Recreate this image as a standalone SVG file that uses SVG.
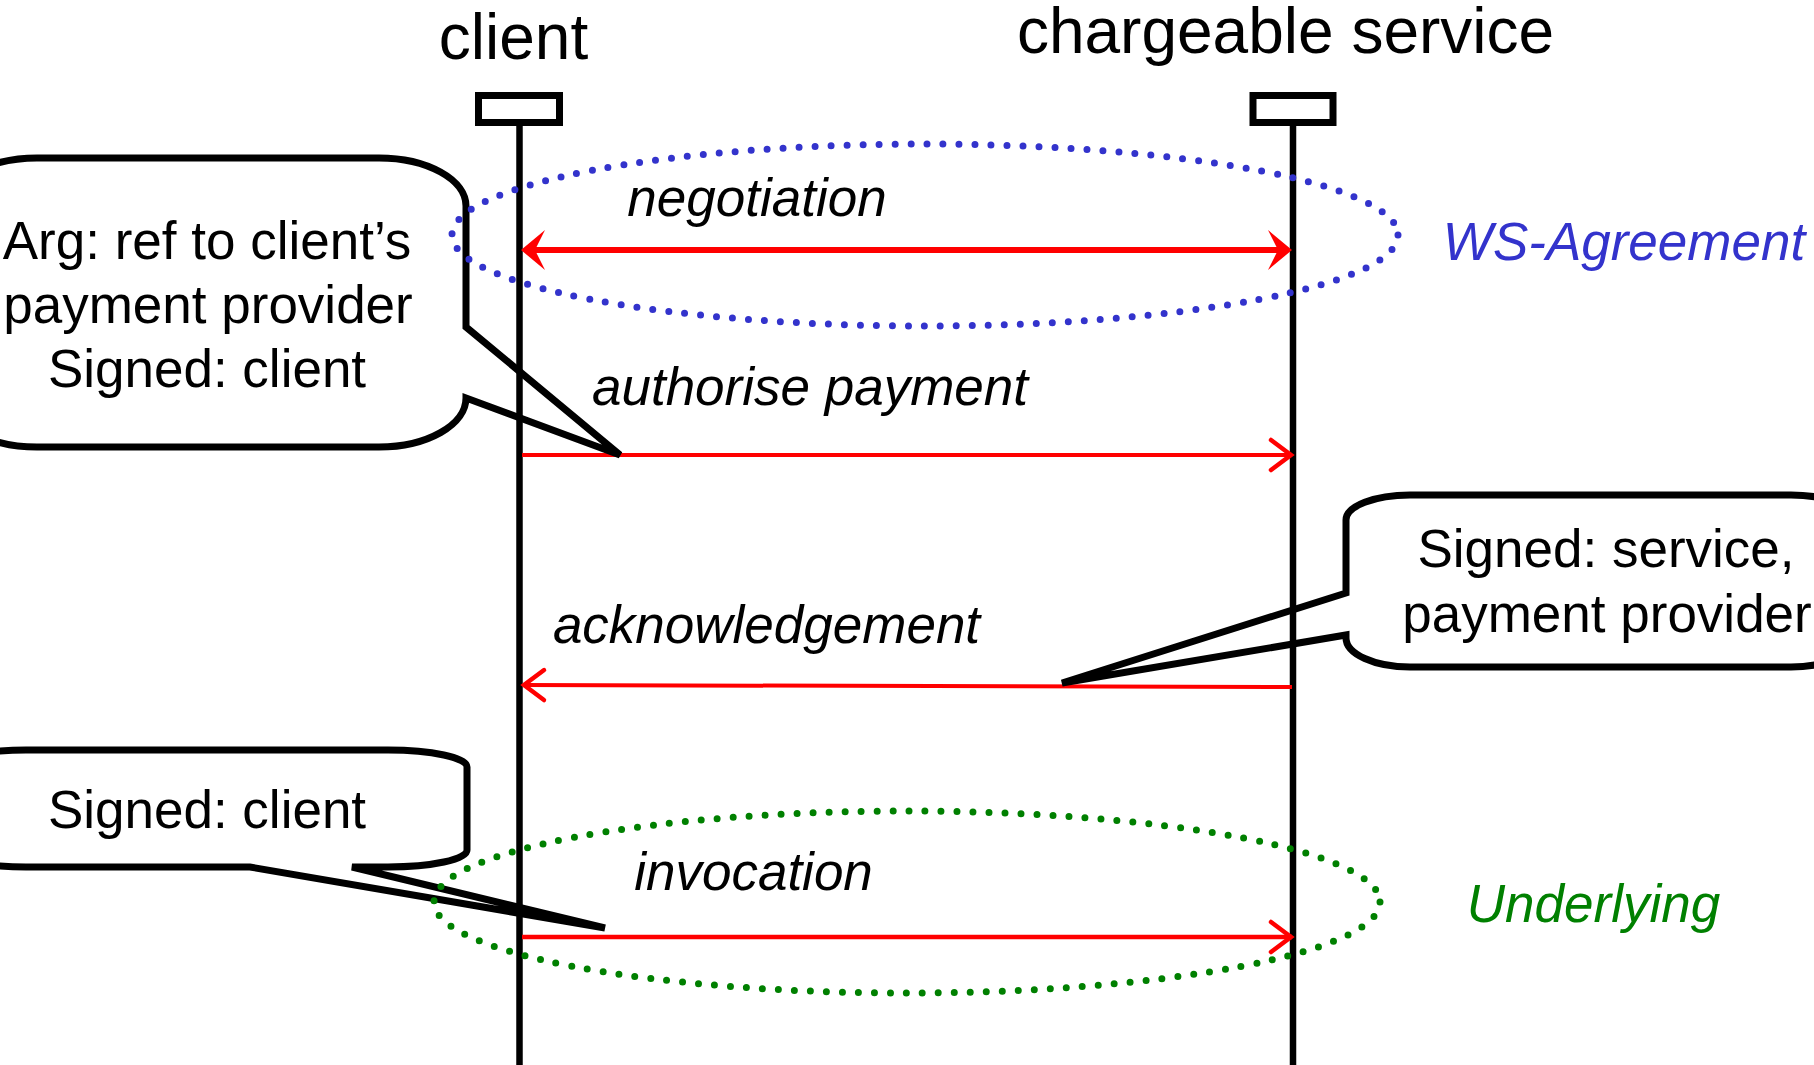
<svg xmlns="http://www.w3.org/2000/svg" width="1814" height="1065" viewBox="0 0 1814 1065">
  <style>
    text { font-family: "Liberation Sans", Arial, sans-serif; }
    .title { font-size: 64px; fill: #000; text-anchor: middle; }
    .msg { font-size: 53px; font-style: italic; fill: #000; text-anchor: middle; }
    .note { font-size: 53px; fill: #000; text-anchor: middle; }
    .proto { font-size: 53px; font-style: italic; text-anchor: middle; }
    .head { fill: #fff; stroke: #000; stroke-width: 7; }
    .life { stroke: #000; stroke-width: 6.5; }
    .callout { fill: none; stroke: #000; stroke-width: 7; stroke-linejoin: miter; }
    .call { stroke: #ff0000; fill: none; }
    .dots { fill: none; stroke-width: 7; stroke-linecap: round; stroke-dasharray: 0 16; }
  </style>
  <defs>
    <marker id="solid" markerUnits="userSpaceOnUse" orient="auto-start-reverse" viewBox="-18 -22 28 44" refX="0" refY="0" markerWidth="28" markerHeight="44" overflow="visible">
      <path d="M8,0 L-16,-20 L-6,0 L-16,20 Z" fill="#ff0000"/>
    </marker>
    <marker id="open" markerUnits="userSpaceOnUse" orient="auto-start-reverse" viewBox="-26 -18 30 36" refX="0" refY="0" markerWidth="30" markerHeight="36" overflow="visible">
      <path d="M-21,-15 L-1,0 L-21,15" fill="none" stroke="#ff0000" stroke-width="4.5" stroke-linecap="round" stroke-linejoin="miter"/>
    </marker>
  </defs>

  <rect width="1814" height="1065" fill="#fff"/>

  <!-- participants -->
  <g id="client">
    <text class="title" x="513.5" y="59">client</text>
    <rect class="head" x="478.5" y="95.5" width="81" height="27"/>
    <line class="life" x1="519.5" y1="126" x2="519.5" y2="1065"/>
  </g>
  <g id="service">
    <text class="title" x="1285.5" y="53">chargeable service</text>
    <rect class="head" x="1253" y="95.5" width="80" height="27"/>
    <line class="life" x1="1293" y1="126" x2="1293" y2="1065"/>
  </g>

  <!-- messages -->
  <g id="connectors">
    <line class="call" x1="529" y1="250" x2="1284" y2="250" stroke-width="6" marker-start="url(#solid)" marker-end="url(#solid)"/>
    <line class="call" x1="522" y1="455" x2="1292" y2="455" stroke-width="4" marker-end="url(#open)"/>
    <line class="call" x1="1292" y1="687" x2="523" y2="685" stroke-width="4" marker-end="url(#open)"/>
    <line class="call" x1="522" y1="937" x2="1292" y2="937" stroke-width="4.5" marker-end="url(#open)"/>
  </g>

  <g id="msg-labels">
    <text class="msg" x="757" y="216">negotiation</text>
    <text class="msg" x="810" y="405">authorise payment</text>
    <text class="msg" x="766.5" y="643">acknowledgement</text>
    <text class="msg" x="753.5" y="890">invocation</text>
  </g>

  <!-- annotations -->
  <g id="note-authorise">
    <path class="callout" d="M-50,206 A87,48 0 0 1 37,158 L379,158 A87,48 0 0 1 466,206 L466,327 L620,455 L466,398 A87,49 0 0 1 379,447 L37,447 A87,49 0 0 1 -50,398 Z"/>
    <text class="note" x="207" y="259">Arg: ref to client’s</text>
    <text class="note" x="208" y="323">payment provider</text>
    <text class="note" x="207" y="387">Signed: client</text>
  </g>

  <g id="note-ack">
    <path class="callout" d="M1346,520 A64,25 0 0 1 1410,495 L1791,495 A64,25 0 0 1 1855,520 L1855,638 A64,29 0 0 1 1791,667 L1410,667 A64,29 0 0 1 1346,638 L1346,635 L1062,683 L1346,593 Z"/>
    <text class="note" x="1606" y="567">Signed: service,</text>
    <text class="note" x="1607" y="632">payment provider</text>
  </g>

  <g id="note-invocation">
    <path class="callout" d="M-53,767 A79,17 0 0 1 26,750 L388,750 A79,17 0 0 1 467,767 L467,850 A79,17 0 0 1 388,867 L352,867 L605,928 L250,867 L26,867 A79,17 0 0 1 -53,850 Z"/>
    <text class="note" x="207" y="828">Signed: client</text>
  </g>

  <!-- protocol groupings -->
  <g id="ws-agreement">
    <ellipse class="dots" cx="925" cy="235" rx="473" ry="91" stroke="#3333cc"/>
    <text class="proto" x="1624" y="260" fill="#3333cc">WS-Agreement</text>
  </g>
  <g id="underlying">
    <ellipse class="dots" cx="907" cy="902" rx="473" ry="91" stroke="#008000"/>
    <text class="proto" x="1593.5" y="922" fill="#008000">Underlying</text>
  </g>
</svg>
